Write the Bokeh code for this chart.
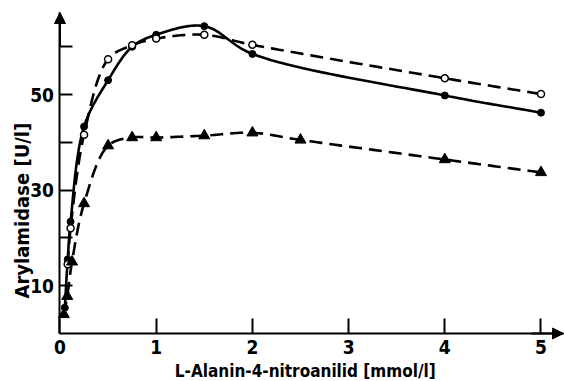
import numpy as np
from bokeh.plotting import figure
from bokeh.models import Range1d, FixedTicker, Label, Arrow, NormalHead
from bokeh.embed import file_html
from bokeh.resources import INLINE

# substrate concentration [mmol/l] and activity [U/l]
x_filled = [0.05, 0.08, 0.11, 0.25, 0.5, 0.75, 1.0, 1.5, 2.0, 4.0, 5.0]
y_filled = [5.4, 15.5, 23.4, 43.3, 53.0, 60.0, 62.5, 64.3, 58.5, 49.8, 46.2]

x_open = [0.08, 0.11, 0.25, 0.5, 0.75, 1.0, 1.5, 2.0, 4.0, 5.0]
y_open = [14.5, 22.0, 41.6, 57.4, 60.3, 61.7, 62.5, 60.4, 53.4, 50.1]

x_tri = [0.04, 0.075, 0.125, 0.25, 0.5, 0.75, 1.0, 1.5, 2.0, 2.5, 4.0, 5.0]
y_tri = [4.0, 7.8, 15.0, 27.2, 39.3, 41.0, 41.0, 41.4, 42.0, 40.5, 36.4, 33.7]

x_ticks = [0, 1, 2, 3, 4, 5]
y_ticks = [10, 20, 30, 40, 50, 60]
y_tick_labels = {10: "10", 20: "", 30: "30", 40: "", 50: "50", 60: ""}

x_title = "L-Alanin-4-nitroanilid [mmol/l]"
y_title = "Arylamidase [U/l]"

FONT = "DejaVu Sans Condensed, Roboto Condensed, Liberation Sans Narrow, Roboto"
SY = 4.78 / 96.2  # y scaling to screen-like proportions for smoothing

X_MIN, X_MAX = -0.6185, 5.2443
Y_MIN, Y_MAX = -10.04, 69.67
X_AXIS_END, Y_AXIS_END = 5.234, 67.15


def smooth(xs, ys, n=24, alpha=0.5):
    pts = np.column_stack([np.asarray(xs, float), np.asarray(ys, float) * SY])
    P = np.vstack([2 * pts[0] - pts[1], pts, 2 * pts[-1] - pts[-2]])
    out = []
    for i in range(1, len(P) - 2):
        p0, p1, p2, p3 = P[i - 1], P[i], P[i + 1], P[i + 2]
        t0 = 0.0
        t1 = t0 + np.linalg.norm(p1 - p0) ** alpha
        t2 = t1 + np.linalg.norm(p2 - p1) ** alpha
        t3 = t2 + np.linalg.norm(p3 - p2) ** alpha
        t = np.linspace(t1, t2, n)[:, None]
        A1 = (t1 - t) / (t1 - t0) * p0 + (t - t0) / (t1 - t0) * p1
        A2 = (t2 - t) / (t2 - t1) * p1 + (t - t1) / (t2 - t1) * p2
        A3 = (t3 - t) / (t3 - t2) * p2 + (t - t2) / (t3 - t2) * p3
        B1 = (t2 - t) / (t2 - t0) * A1 + (t - t0) / (t2 - t0) * A2
        B2 = (t3 - t) / (t3 - t1) * A2 + (t - t1) / (t3 - t1) * A3
        C = (t2 - t) / (t2 - t1) * B1 + (t - t1) / (t2 - t1) * B2
        out.append(C if i == 1 else C[1:])
    c = np.vstack(out)
    return c[:, 0], c[:, 1] / SY


p = figure(width=564, height=381, x_range=Range1d(X_MIN, X_MAX), y_range=Range1d(Y_MIN, Y_MAX),
           output_backend="svg", toolbar_location=None,
           min_border_left=0, min_border_right=0, min_border_top=0, min_border_bottom=0)
p.outline_line_color = None
p.xgrid.visible = False
p.ygrid.visible = False

for ax in (p.xaxis[0], p.yaxis[0]):
    ax.fixed_location = 0
    ax.axis_line_width = 2
    ax.major_tick_line_width = 2
    ax.minor_tick_line_color = None
    ax.major_tick_out = 0
    ax.major_label_text_font = FONT
    ax.major_label_text_font_style = "bold"
    ax.major_label_text_font_size = "19px"
    ax.major_label_text_color = "black"
    ax.axis_line_color = "black"
    ax.major_tick_line_color = "black"

p.xaxis[0].bounds = (0, X_AXIS_END)
p.yaxis[0].bounds = (0, Y_AXIS_END)
p.xaxis[0].ticker = FixedTicker(ticks=x_ticks)
p.xaxis[0].major_tick_in = 15
p.xaxis[0].major_label_standoff = 6
p.yaxis[0].ticker = FixedTicker(ticks=y_ticks)
p.yaxis[0].major_label_overrides = y_tick_labels
p.yaxis[0].major_tick_in = 13
p.yaxis[0].major_label_standoff = 6

# curves
sx, sy = smooth(x_filled, y_filled)
p.line(sx, sy, line_color="black", line_width=2.6)
ox, oy = smooth(x_open, y_open)
p.line(ox, oy, line_color="black", line_width=2.6, line_dash="13 7")
tx, ty = smooth(x_tri, y_tri)
p.line(tx, ty, line_color="black", line_width=2.6, line_dash="13 7")

# markers
p.scatter(x_filled, y_filled, marker="circle", size=7, fill_color="black", line_color="black")
p.scatter(x_open, y_open, marker="circle", size=7, fill_color="white", line_color="black", line_width=1.5)
p.scatter(x_tri, y_tri, marker="triangle", size=11, fill_color="black", line_color="black")

# axis arrows
p.add_layout(Arrow(end=NormalHead(size=11, fill_color="black", line_color="black", line_width=1),
                   x_start=0, y_start=60, x_end=0, y_end=Y_AXIS_END, line_width=2, line_color="black"))
p.add_layout(Arrow(end=NormalHead(size=11, fill_color="black", line_color="black", line_width=1),
                   x_start=4.9, y_start=0, x_end=X_AXIS_END, y_end=0, line_width=2, line_color="black"))

# axis titles
p.add_layout(Label(x=2.55, y=-7.75, text=x_title, text_font=FONT,
                   text_font_style="bold", text_font_size="17px", text_align="center",
                   text_baseline="alphabetic", text_color="black"))
p.add_layout(Label(x=-0.40, y=25.7, angle=np.pi / 2, text=y_title, text_font=FONT,
                   text_font_style="bold", text_font_size="20px", text_align="center",
                   text_baseline="middle", text_color="black"))

open("out.html", "w").write(file_html(p, INLINE))
